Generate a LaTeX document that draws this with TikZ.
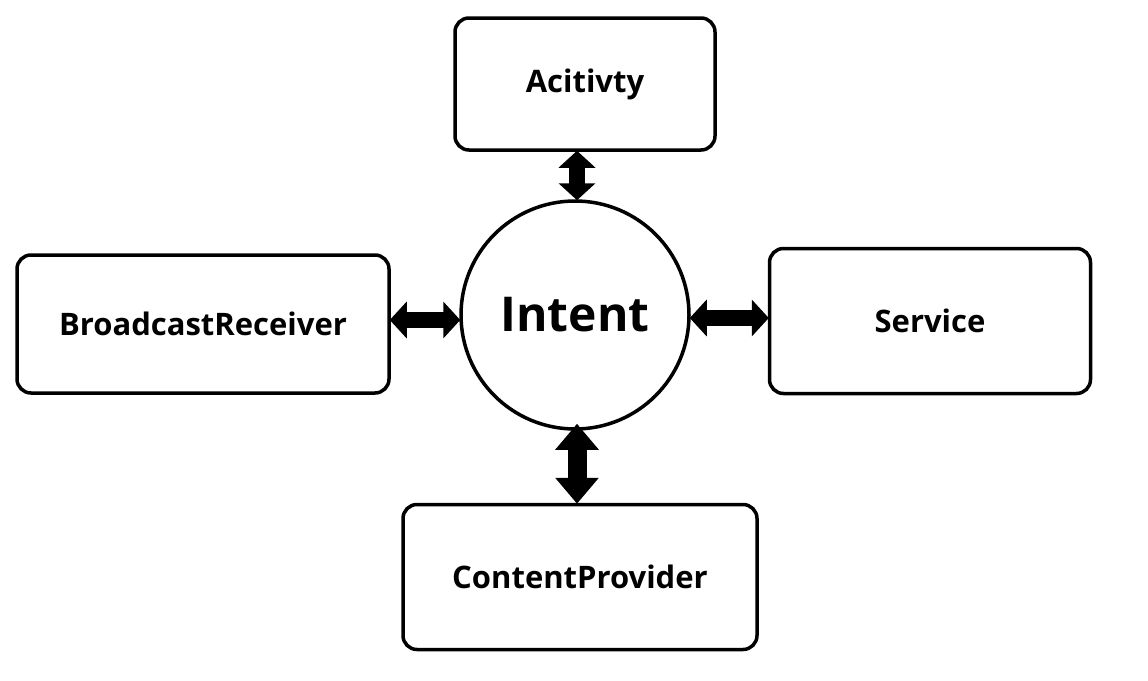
\documentclass[tikz,border=0pt]{standalone}
\usepackage{fontspec}
\setmainfont{Open Sans}
\usetikzlibrary{arrows.meta}

\tikzset{
    compbox/.style={draw, line width=3.5pt, rounded corners=14pt, font=\bfseries\fontsize{31}{36}\selectfont},
    bigarrow/.style={line width=16pt, {Triangle[width=36pt,length=17pt]}-{Triangle[width=36pt,length=17pt]}, shorten <=-1pt, shorten >=-1pt},
    widearrow/.style={line width=19pt, {Triangle[width=42pt,length=26pt]}-{Triangle[width=42pt,length=26pt]}, shorten <=-7pt, shorten >=-1pt}
}

\begin{document}
\begin{tikzpicture}[x=1pt, y=-1pt]
    \useasboundingbox (0,0) rectangle (1148,680);

    \node[draw, circle, line width=3.5pt, minimum size=228pt, inner sep=0pt,
          font=\bfseries\fontsize{48}{54}\selectfont] (intent) at (575,315) {Intent};

    \node[compbox, minimum width=260pt, minimum height=132pt] (activity) at (585,84) {Acitivty};
    \node[compbox, minimum width=372pt, minimum height=138pt] (receiver) at (203,324) {BroadcastReceiver};
    \node[compbox, minimum width=321pt, minimum height=145pt] (service) at (930,321) {Service};
    \node[compbox, minimum width=354pt, minimum height=145pt] (provider) at (580,577) {ContentProvider};

    \draw[bigarrow] (intent.north -| 577,0) -- (activity.south -| 577,0);
    \draw[bigarrow] (intent.west |- 0,320) -- (receiver.east |- 0,320);
    \draw[bigarrow] (intent.east |- 0,318) -- (service.west |- 0,318);
    \draw[widearrow] (intent.south -| 577,0) -- (provider.north -| 577,0);
\end{tikzpicture}
\end{document}
